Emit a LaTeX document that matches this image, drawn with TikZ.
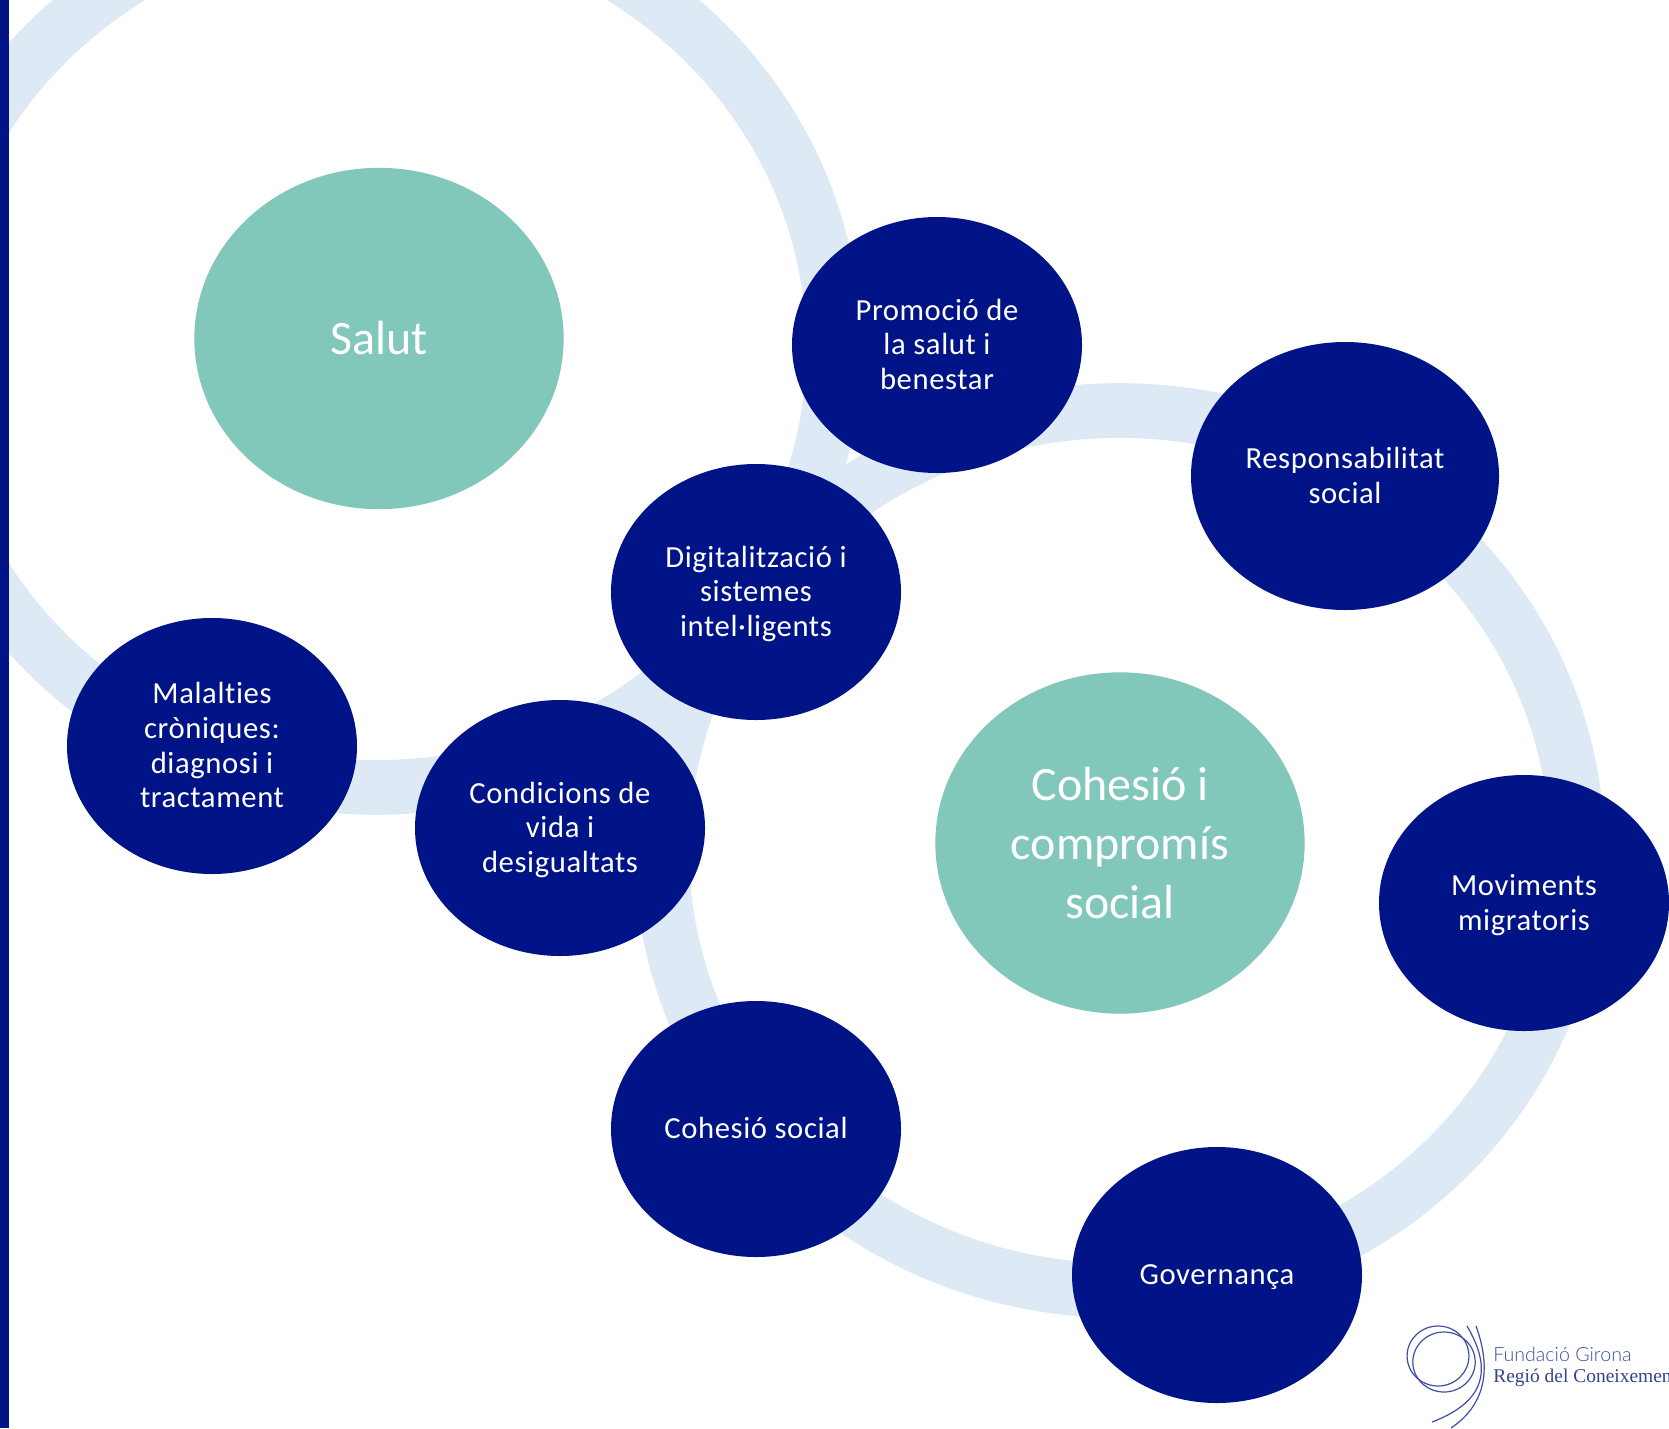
\documentclass[tikz,border=0pt]{standalone}
\usepackage{fontspec}
\setmainfont{Carlito}[Ligatures=CommonOff]
\newfontfamily\bubblefont{Carlito}[LetterSpace=2,Ligatures=CommonOff]
\newfontfamily\logosans{Lato Light}
\newfontfamily\logoserif{Liberation Serif}
\usetikzlibrary{shapes.geometric}
\definecolor{navyblue}{HTML}{001487}
\definecolor{ringblue}{HTML}{DEE9F6}
\definecolor{themegreen}{HTML}{81C7BA}
\definecolor{logoblue}{HTML}{3F4FA3}
\tikzset{
	bubble/.style={ellipse,fill=navyblue,text=white,inner sep=0pt,align=center,minimum width=217.5pt,minimum height=192pt,text depth=1.2pt,font=\bubblefont\fontsize{23}{26}\selectfont},
	theme/.style={ellipse,fill=themegreen,text=white,inner sep=0pt,align=center,minimum width=277pt,minimum height=256pt,font=\fontsize{36}{44}\selectfont},
	ring/.style={draw=ringblue,line width=41pt},
	logoline/.style={draw=logoblue,line width=.9pt}
}
\begin{document}
\begin{tikzpicture}[x=.75pt,y=-.75pt]
	\useasboundingbox (0,0) rectangle (1669,1428);
	\fill[white] (0,0) rectangle (1669,1428);
	% Draw rings
	\draw[ring] (376,348) ellipse [x radius=343.3pt,y radius=329.6pt];
	\draw[ring] (1119.5,850.5) ellipse [x radius=343.3pt,y radius=330pt];
	% Draw left bar
	\fill[navyblue] (0,0) rectangle (9,1428);

	% Draw theme nodes
	\node[theme] (salut) at (379,338.5) {Salut};
	\node[theme] (cohesio) at (1120,843) {Cohesió i\\compromís\\social};

	% Draw topic nodes
	\node[bubble] (promocio) at (937,345) {Promoció de\\la salut i\\benestar};
	\node[bubble,minimum width=231pt,minimum height=201pt] (responsabilitat) at (1345,476) {Responsabilitat\\social};
	\node[bubble] (digital) at (756,592) {Digitalització i\\sistemes\\intel·ligents};
	\node[bubble] (malalties) at (212,746) {Malalties\\cròniques:\\diagnosi i\\tractament};
	\node[bubble] (condicions) at (560,828) {Condicions de\\vida i\\desigualtats};
	\node[bubble] (moviments) at (1524,903) {Moviments\\migratoris};
	\node[bubble] (cohesiosocial) at (756,1129) {Cohesió social};
	\node[bubble] (governanca) at (1217,1275) {Governança};

	% Draw logo
	\draw[logoline] (1438,1356) ellipse [x radius=23.2pt,y radius=22.5pt];
	\draw[logoline] (1444,1362) ellipse [x radius=23.4pt,y radius=22.5pt];
	\draw[logoline] (1467,1326) .. controls (1490,1365) and (1490,1400) .. (1432,1422);
	\draw[logoline] (1476,1326) .. controls (1492,1370) and (1485,1405) .. (1451,1428);
	\node[anchor=base west,inner sep=0pt,text=logoblue,font=\logosans\fontsize{14.7}{16}\selectfont] (logotop) at (1493,1361) {Fundació Girona};
	\node[anchor=base west,inner sep=0pt,text=logoblue!85!black,font=\logoserif\fontsize{14.6}{18}\selectfont] (logobottom) at (1493,1382) {Regió del Coneixement};
\end{tikzpicture}
\end{document}
